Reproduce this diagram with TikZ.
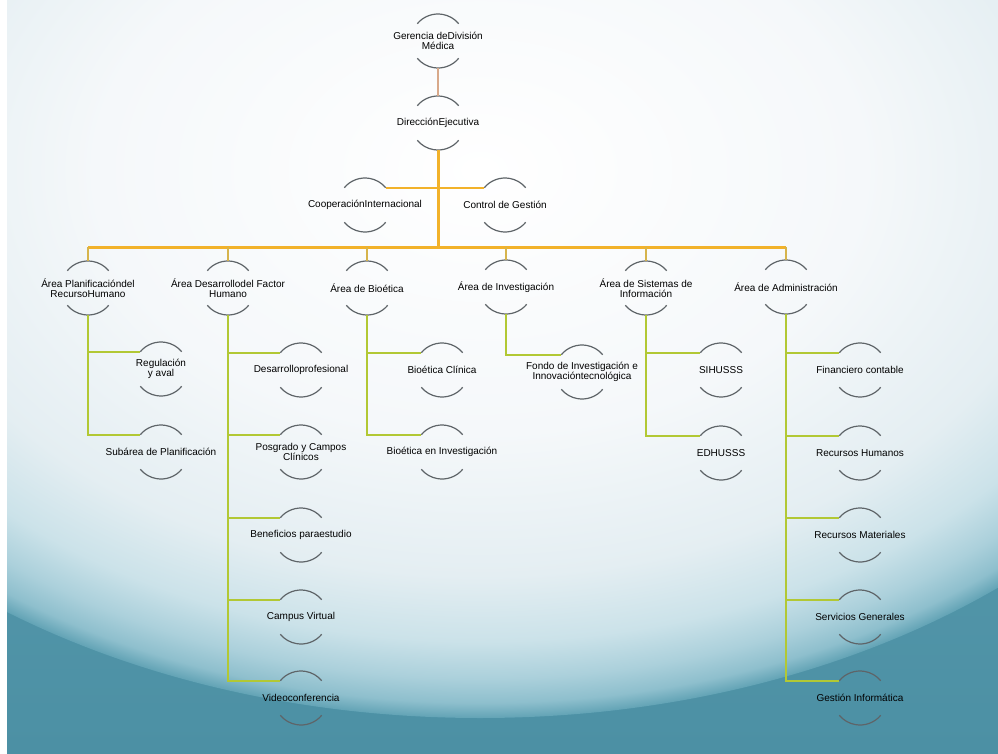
\documentclass[tikz,border=0pt]{standalone}
\usepackage{fontspec}
\setmainfont{Liberation Sans}
\usetikzlibrary{calc}
\definecolor{goldln}{HTML}{F2B22A}
\definecolor{tanln}{HTML}{D8A98A}
\definecolor{dropln}{HTML}{D6B44C}
\definecolor{greenln}{HTML}{B2C834}
\definecolor{arcgray}{HTML}{5E6468}
\definecolor{tealdark}{HTML}{4C90A4}
\definecolor{tealmid}{HTML}{62A3B5}
\definecolor{teallight}{HTML}{8EBFCD}
\definecolor{bandmid}{HTML}{ABD0DB}
\definecolor{bandbot}{HTML}{CBE2E9}
\definecolor{innertop}{HTML}{F5F8FA}
\definecolor{innerbot}{HTML}{E4EEF2}
\pgfdeclareradialshading{bgsh}{\pgfpoint{0bp}{0bp}}{%
  color(0bp)=(white); color(12bp)=(innertop); color(18.5bp)=(innerbot);
  color(21.5bp)=(bandbot); color(23.2bp)=(bandmid); color(24.3bp)=(teallight);
  color(25bp)=(tealmid); color(50bp)=(tealmid)}
\newcommand{\orgu}[4]{%
  \node[lbl] (#1) at (#2,#3) {#4};
  \coordinate (#1-tl) at ($(#2,#3)+(-140:27)$);
  \coordinate (#1-tr) at ($(#2,#3)+(-40:27)$);
  \coordinate (#1-t) at ($(#2,#3)+(0,-27)$);
  \coordinate (#1-b) at ($(#2,#3)+(0,27)$);
  \draw[arcst] (#1-tl) arc[start angle=-140,end angle=-40,radius=27];
  \draw[arcst] ($(#2,#3)+(40:27)$) arc[start angle=40,end angle=140,radius=27];
}
\begin{document}
\begin{tikzpicture}[x=1pt,y=-1pt,
  lbl/.style={font=\fontsize{10}{10.5}\selectfont,align=center,inner sep=0pt,text=black},
  arcst/.style={draw=arcgray,line width=1.2pt},
  trunk/.style={draw=goldln,line width=3pt},
  tanc/.style={draw=tanln,line width=2.5pt},
  sidec/.style={draw=goldln,line width=2pt},
  dropc/.style={draw=dropln,line width=1.5pt},
  greenc/.style={draw=greenln,line width=1.8pt}]
\useasboundingbox (0,0) rectangle (998,754);
% background
\shade[top color=tealmid,bottom color=tealdark] (0,0) rectangle (998,754);
\begin{scope}
\clip (0,0) rectangle (998,754);
\shade[shading=bgsh] (480,170) ellipse[x radius=800,y radius=548];
\end{scope}
\fill[white] (0,0) rectangle (7,754);
% nodes
\orgu{ger}{438}{41}{Gerencia deDivisión\\Médica}
\orgu{dir}{438}{123}{DirecciónEjecutiva}
\orgu{coop}{365}{205}{CooperaciónInternacional}
\orgu{ctrl}{505}{205}{Control de Gestión}
\orgu{aa}{88}{288}{Área Planificacióndel\\RecursoHumano}
\orgu{ab}{228}{288}{Área Desarrollodel Factor\\Humano}
\orgu{ac}{367}{288}{Área de Bioética}
\orgu{ad}{506}{287}{Área de Investigación}
\orgu{ae}{646}{288}{Área de Sistemas de\\Información}
\orgu{af}{786}{287}{Área de Administración}
% children
\orgu{aa1}{161}{369}{Regulación\\y aval}
\orgu{aa2}{161}{452}{Subárea de Planificación}
\orgu{ab1}{301}{370}{Desarrolloprofesional}
\orgu{ab2}{301}{452}{Posgrado y Campos\\Clínicos}
\orgu{ab3}{301}{535}{Beneficios paraestudio}
\orgu{ab4}{301}{617}{Campus Virtual}
\orgu{ab5}{301}{698}{Videoconferencia}
\orgu{ac1}{442}{370}{Bioética Clínica}
\orgu{ac2}{442}{452}{Bioética en Investigación}
\orgu{ad1}{582}{372}{Fondo de Investigación e\\Innovacióntecnológica}
\orgu{ae1}{721}{370}{SIHUSSS}
\orgu{ae2}{721}{453}{EDHUSSS}
\orgu{af1}{860}{370}{Financiero contable}
\orgu{af2}{860}{453}{Recursos Humanos}
\orgu{af3}{860}{535}{Recursos Materiales}
\orgu{af4}{860}{617}{Servicios Generales}
\orgu{af5}{860}{698}{Gestión Informática}
% connectors
\coordinate (busL) at (88,247);
\coordinate (busR) at (786,247);
\draw[tanc] (ger-b) -- (dir-t);
\draw[sidec] (coop-tr) -- (ctrl-tl);
\draw[trunk] (dir-b) -- (dir-b |- busL);
\draw[trunk] (busL) -- (busR);
\foreach \n in {aa,ab,ac,ad,ae,af}{
  \draw[dropc] (\n-t |- busL) -- (\n-t);
}
\draw[greenc] (aa-b) |- (aa1-tl);
\draw[greenc] (aa-b) |- (aa2-tl);
\foreach \k in {1,...,5}{\draw[greenc] (ab-b) |- (ab\k-tl);}
\draw[greenc] (ac-b) |- (ac1-tl);
\draw[greenc] (ac-b) |- (ac2-tl);
\draw[greenc] (ad-b) |- (ad1-tl);
\draw[greenc] (ae-b) |- (ae1-tl);
\draw[greenc] (ae-b) |- (ae2-tl);
\foreach \k in {1,...,5}{\draw[greenc] (af-b) |- (af\k-tl);}
\end{tikzpicture}
\end{document}
